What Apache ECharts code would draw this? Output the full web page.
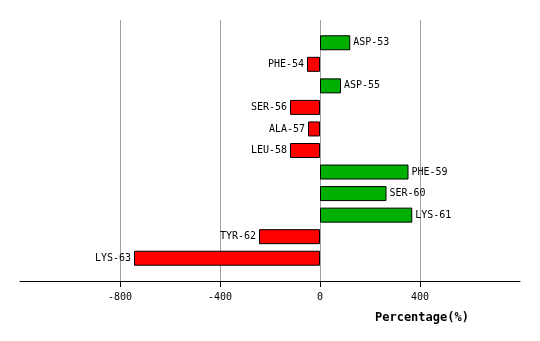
<!DOCTYPE html>
<html>
<head>
<meta charset="utf-8">
<script src="https://cdn.jsdelivr.net/npm/echarts@6/dist/echarts.min.js"></script>
<style>html,body{margin:0;padding:0;background:#fff;}#c{width:540px;height:341px;}</style>
</head>
<body>
<div id="c"></div>
<script>
var categories = ['ASP-53','PHE-54','ASP-55','SER-56','ALA-57','LEU-58','PHE-59','SER-60','LYS-61','TYR-62','LYS-63'];
var values = [121,-52,84,-120,-48,-120,354,266,369,-244,-744];
var tickValues = [-800,-400,0,400];
var axisTitle = 'Percentage(%)';

var chart = echarts.init(document.getElementById('c'), null, {renderer:'canvas'});
var font = 'DejaVu Sans Mono';
var data = values.map(function(v){
  return {
    value: v,
    itemStyle: {color: v >= 0 ? '#00b000' : '#ff0000'},
    label: {position: v >= 0 ? 'right' : 'left'}
  };
});
chart.setOption({
  animation: false,
  grid: [
    {left: 20, right: 20, top: 20, bottom: 60},
    {left: 20, right: 20, top: 32, height: 237}
  ],
  xAxis: [
    {
      gridIndex: 0, type: 'value', min: -1200, max: 800, interval: 400,
      axisLine: {show: true, onZero: false, lineStyle: {color: '#000', width: 1}},
      axisTick: {show: true, length: 6, inside: false, customValues: tickValues, lineStyle: {color: '#000'}},
      axisLabel: {customValues: tickValues, color: '#000', fontFamily: font, fontSize: 10, margin: 11},
      splitLine: {show: true, lineStyle: {color: '#a0a0a0', width: 1}}
    },
    {
      gridIndex: 1, type: 'value', min: -1200, max: 800, show: false,
      splitLine: {show: false}
    }
  ],
  yAxis: [
    {gridIndex: 0, type: 'category', data: categories, show: false},
    {gridIndex: 1, type: 'category', data: categories, inverse: true, show: false}
  ],
  series: [{
    type: 'bar',
    xAxisIndex: 1, yAxisIndex: 1,
    data: data,
    barWidth: 15,
    itemStyle: {borderColor: '#000', borderWidth: 1},
    label: {show: true, formatter: '{b}', color: '#000', fontFamily: font, fontSize: 10, distance: 3}
  }],
  graphic: [{
    type: 'text', left: 375, top: 312,
    style: {text: axisTitle, fill: '#000', font: 'bold 12px "DejaVu Sans Mono"'}
  }]
});
</script>
</body>
</html>
